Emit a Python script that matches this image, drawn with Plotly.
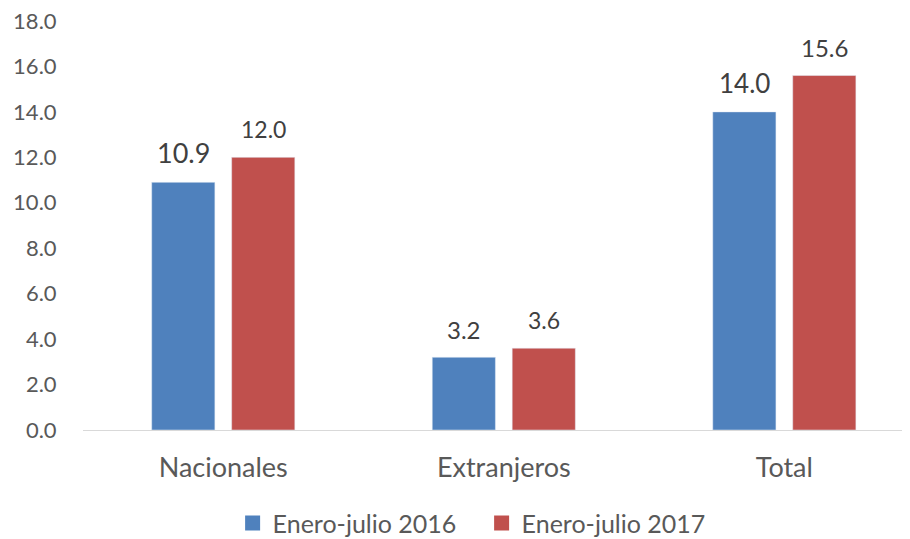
import plotly.graph_objects as go

categories = ["Nacionales", "Extranjeros", "Total"]
series_names = ["Enero-julio 2016", "Enero-julio 2017"]
values_2016 = [10.9, 3.2, 14.0]
values_2017 = [12.0, 3.6, 15.6]
tick_vals = [0, 2, 4, 6, 8, 10, 12, 14, 16, 18]

colors = ["#4F81BD", "#C0504D"]
FONT = "Lato"

fig = go.Figure()
for name, vals, col in zip(series_names, [values_2016, values_2017], colors):
    fig.add_trace(go.Bar(x=categories, y=vals, name=name, marker=dict(color=col),
                         showlegend=False))
# legend entries with larger square swatches
for name, col in zip(series_names, colors):
    fig.add_trace(go.Scatter(x=[None], y=[None], mode="markers", name=name,
                             marker=dict(symbol="square", size=15, color=col),
                             showlegend=True, hoverinfo="skip"))

# data labels
label_sizes = [[27, 24, 26], [23, 23, 24]]
for vals, xs, ys, sizes in [(values_2016, -40, 11, label_sizes[0]), (values_2017, 40, 12, label_sizes[1])]:
    for c, v, s in zip(categories, vals, sizes):
        fig.add_annotation(x=c, y=v, text=f"{v:.1f}", showarrow=False,
                           xshift=xs, yshift=ys, yanchor="bottom",
                           font=dict(family=FONT, size=s, color="#404040"))

fig.update_layout(
    width=902, height=531,
    margin=dict(l=75, r=0, t=13, b=109, autoexpand=False),
    paper_bgcolor="white", plot_bgcolor="white",
    barmode="group", bargap=0.43, bargroupgap=0.21,
    font=dict(family=FONT, color="#595959"),
    showlegend=True,
    legend=dict(orientation="h", x=0.482, xanchor="center", y=-0.228, yanchor="middle",
                font=dict(family=FONT, size=25, color="#595959"),
                traceorder="normal", itemwidth=30, entrywidth=204, entrywidthmode="pixels"),
)
fig.update_xaxes(range=[-0.5, 2.448], showline=True, linecolor="#D9D9D9", linewidth=1,
                 automargin=False, type="category",
                 ticks="outside", ticklen=14, tickcolor="rgba(0,0,0,0)",
                 tickfont=dict(family=FONT, size=27, color="#595959"), showgrid=False)
fig.update_yaxes(range=[0, 18], tickvals=tick_vals, tickformat=".1f", showgrid=False,
                 zeroline=False, showline=False, automargin=False, ticklabeloverflow="allow",
                 ticks="outside", ticklen=21, tickcolor="rgba(0,0,0,0)",
                 tickfont=dict(family=FONT, size=22, color="#595959"))

fig.write_html("out.html")
